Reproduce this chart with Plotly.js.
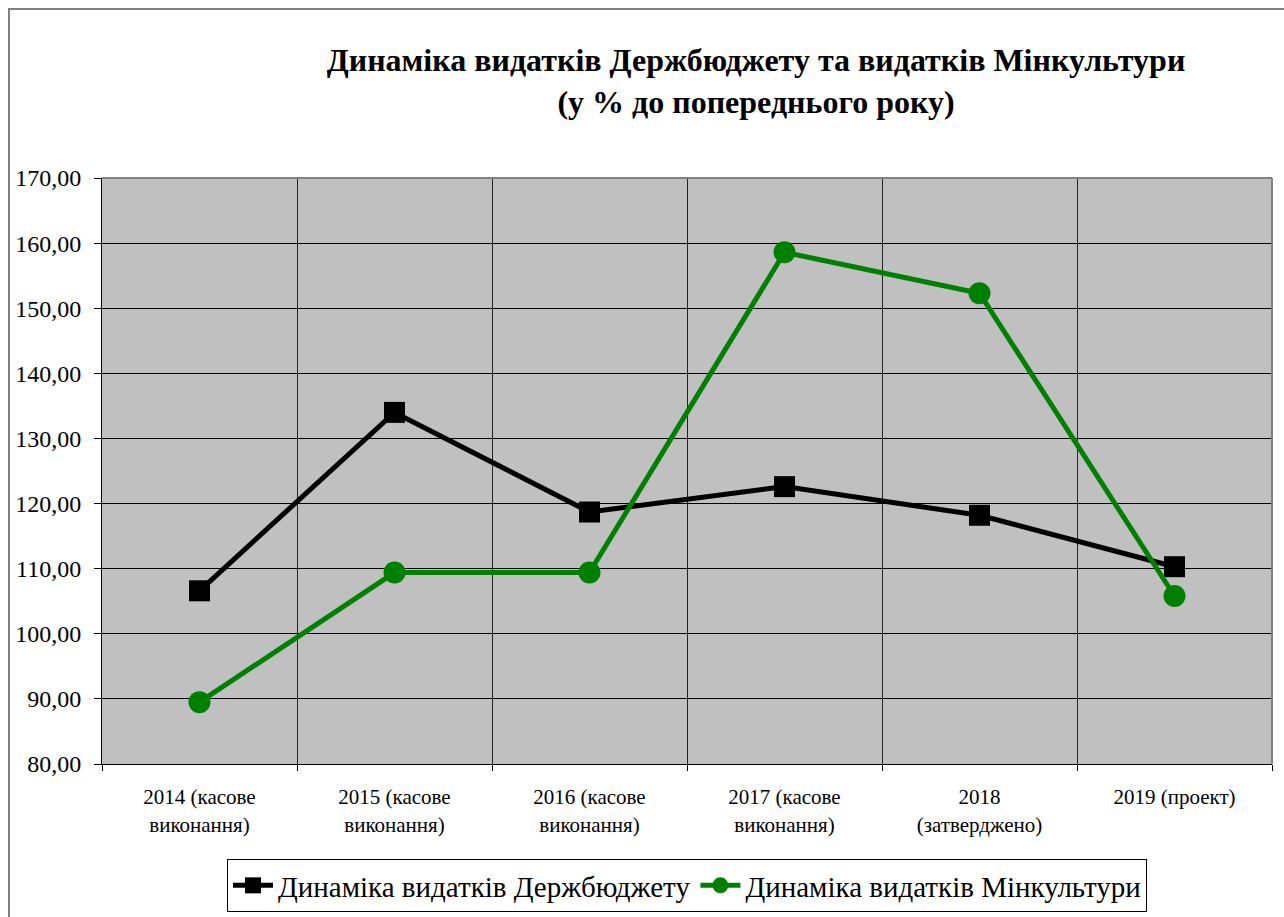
<!DOCTYPE html>
<html>
<head>
<meta charset="utf-8">
<script src="https://cdn.plot.ly/plotly-3.0.1.min.js"></script>
<style>
  html, body { margin: 0; padding: 0; background: #ffffff; }
  #frame { position: absolute; left: 8px; top: 8px; width: 1300px; height: 940px;
           border-left: 2px solid #808080; border-top: 2px solid #808080; box-sizing: border-box; }
  #chart { position: absolute; left: 0; top: 0; width: 1284px; height: 917px; }
</style>
</head>
<body>
<div id="frame"></div>
<div id="chart"></div>
<script>
const categories = [
  "2014 (касове<br>виконання)",
  "2015 (касове<br>виконання)",
  "2016 (касове<br>виконання)",
  "2017 (касове<br>виконання)",
  "2018<br>(затверджено)",
  "2019 (проект)"
];
const seriesNames = ["Динаміка видатків Держбюджету", "Динаміка видатків Мінкультури"];
const budgetValues = [106.6, 134.0, 118.7, 122.6, 118.2, 110.3];
const cultureValues = [89.5, 109.4, 109.4, 158.6, 152.3, 105.8];
const yTickValues = [80, 90, 100, 110, 120, 130, 140, 150, 160, 170];

const FONT = 'Liberation Serif';

const traces = [
  {
    x: categories, y: budgetValues, name: seriesNames[0], type: 'scatter', mode: 'lines+markers',
    line: { color: '#000000', width: 5 },
    marker: { symbol: 'square', size: 21, color: '#000000' }
  },
  {
    x: categories, y: cultureValues, name: seriesNames[1], type: 'scatter', mode: 'lines+markers',
    line: { color: '#008000', width: 5 },
    marker: { symbol: 'circle', size: 22, color: '#008000' }
  }
];

const layout = {
  width: 1284, height: 917,
  paper_bgcolor: 'rgba(0,0,0,0)',
  plot_bgcolor: '#C0C0C0',
  margin: { l: 102, r: 12, t: 178, b: 153 },
  separators: ', ',
  font: { family: FONT, color: '#000000' },
  showlegend: true,
  title: {
    text: '<b>Динаміка видатків Держбюджету та видатків Мінкультури<br>(у % до попереднього року)</b>',
    font: { family: FONT, size: 32, color: '#000000' },
    xref: 'container', x: 756 / 1284, xanchor: 'center',
    yref: 'container', y: 1 - 71 / 917, yanchor: 'top'
  },
  xaxis: {
    type: 'category',
    tickson: 'boundaries',
    range: [-0.5, 5.5],
    showgrid: true, gridcolor: '#222222', gridwidth: 1,
    showline: true, linecolor: '#000000', linewidth: 1,
    ticks: 'outside', ticklen: 6, tickcolor: '#000000',
    ticklabelstandoff: 14,
    tickfont: { family: FONT, size: 21, color: '#000000' },
    zeroline: false, fixedrange: true, automargin: false
  },
  yaxis: {
    range: [80, 170],
    tickvals: yTickValues,
    tickformat: '.2f',
    showgrid: true, gridcolor: '#000000', gridwidth: 1,
    showline: true, linecolor: '#000000', linewidth: 1,
    ticks: 'outside', ticklen: 7, tickcolor: '#000000',
    ticklabelstandoff: 8,
    tickfont: { family: FONT, size: 24, color: '#000000' },
    zeroline: false, fixedrange: true, automargin: false
  },
  legend: {
    orientation: 'h',
    x: 0.5, xanchor: 'center',
    yref: 'container', y: 1 - 912 / 917, yanchor: 'bottom',
    bordercolor: '#000000', borderwidth: 1,
    bgcolor: '#ffffff',
    font: { family: FONT, size: 29, color: '#000000' },
    itemwidth: 40
  },
  shapes: [
    { type: 'line', xref: 'paper', yref: 'paper', x0: 0, x1: 1, y0: 1, y1: 1,
      line: { color: '#808080', width: 2 } },
    { type: 'line', xref: 'paper', yref: 'paper', x0: 1, x1: 1, y0: 0, y1: 1,
      line: { color: '#808080', width: 2 } }
  ]
};

Plotly.newPlot('chart', traces, layout, { displayModeBar: false, staticPlot: true });
</script>
</body>
</html>
